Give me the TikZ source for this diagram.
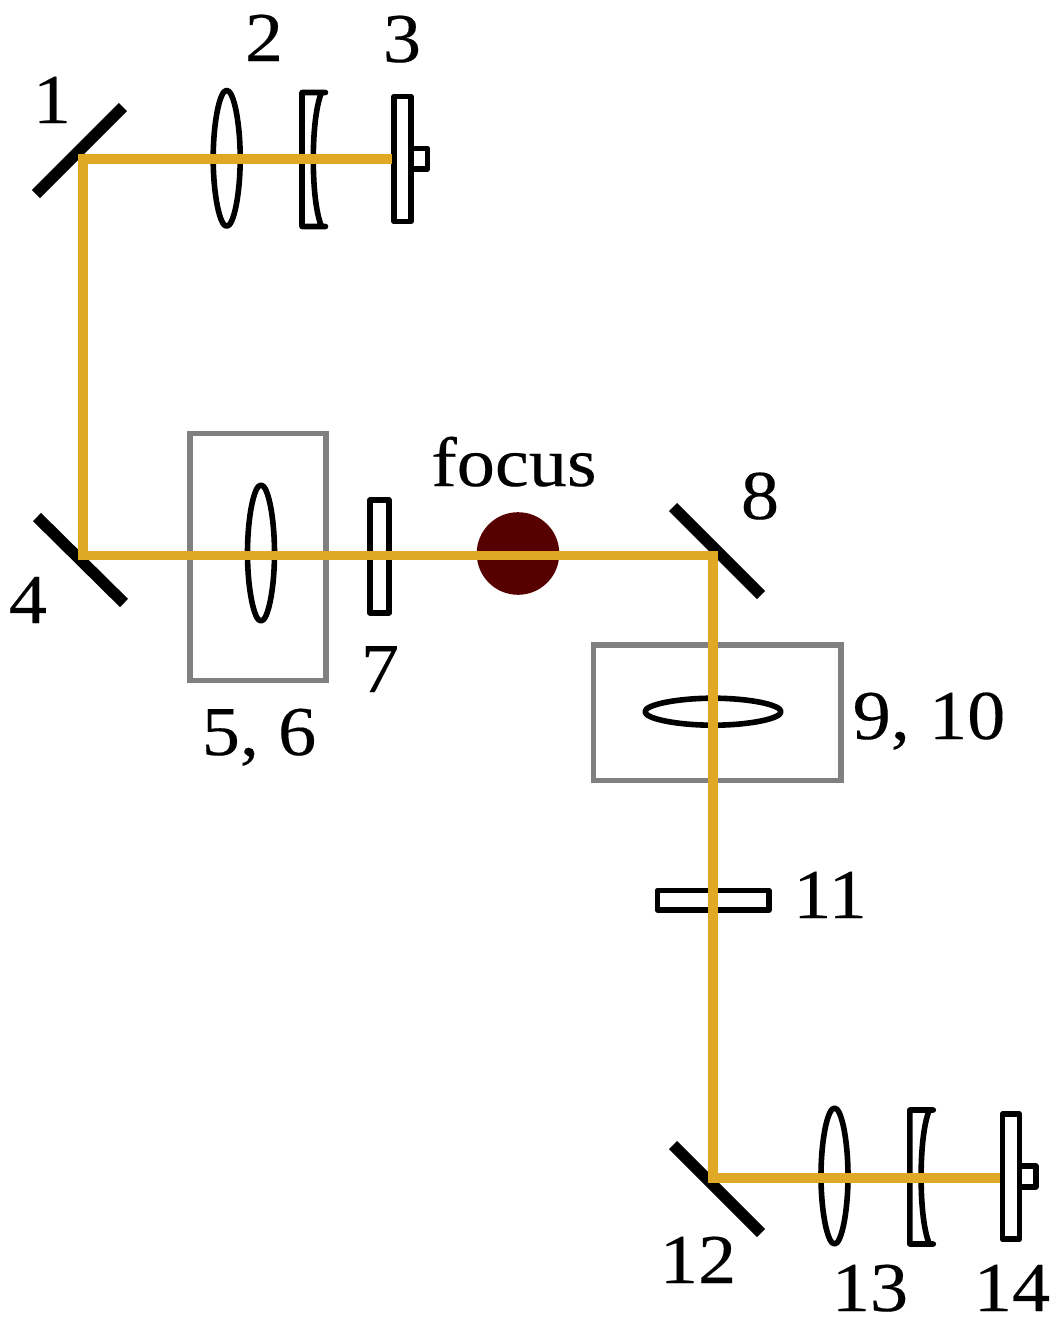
\documentclass[tikz,border=0pt]{standalone}
\usepackage{fontspec}
\setmainfont[FakeStretch=1.09,FakeBold=0.25]{Liberation Serif}
\definecolor{beamgold}{HTML}{DFA926}
\definecolor{boxgray}{HTML}{808080}
\definecolor{focusred}{HTML}{560000}
\tikzset{
  beam/.style={draw=beamgold,line width=9.5pt,line join=miter},
  mirror/.style={draw=black,line width=11.5pt},
  optic/.style={draw=black,line width=5.6pt,line join=round},
  meniscus/.style={draw=black,line width=5.6pt,line join=round,line cap=round},
  stage/.style={draw=boxgray,line width=5.5pt},
  lbl/.style={anchor=base,inner sep=0pt,outer sep=0pt,text=black,font=\fontsize{70}{75}\selectfont}
}
\newcommand{\vlens}[2]{\draw[optic] (#1,#2-68) .. controls (#1+7,#2-68) and (#1+13.5,#2-36) .. (#1+13.5,#2) .. controls (#1+13.5,#2+36) and (#1+7,#2+68) .. (#1,#2+68) .. controls (#1-7,#2+68) and (#1-13.5,#2+36) .. (#1-13.5,#2) .. controls (#1-13.5,#2-36) and (#1-7,#2-68) .. cycle;}
\newcommand{\hlens}[2]{\draw[optic] (#1-68,#2) .. controls (#1-68,#2-7) and (#1-36,#2-13.5) .. (#1,#2-13.5) .. controls (#1+36,#2-13.5) and (#1+68,#2-7) .. (#1+68,#2) .. controls (#1+68,#2+7) and (#1+36,#2+13.5) .. (#1,#2+13.5) .. controls (#1-36,#2+13.5) and (#1-68,#2+7) .. cycle;}
\newcommand{\menisc}[2]{\draw[meniscus,shift={(#1,#2)}] (23.5,0) -- (0,0) -- (0,134) -- (23.5,134) (19.5,0) .. controls (13.5,15) and (11.3,42) .. (11.3,67) .. controls (11.3,92) and (13.5,119) .. (19.5,134);}
\newcommand{\detector}[2]{\draw[optic,shift={(#1,#2)}] (0,0) rectangle (17,125) (17,52) -- (33.5,52) -- (33.5,72.5) -- (17,72.5);}
\begin{document}
\begin{tikzpicture}[x=1pt,y=-1pt]
\useasboundingbox (0,0) rectangle (1057,1320);
% beam corner points
\coordinate (bStart) at (391.7,159);
\coordinate (bM1) at (83,159);
\coordinate (bM4) at (83,555.5);
\coordinate (bM8) at (713,555.5);
\coordinate (bM12) at (713,1178);
\coordinate (bEnd) at (1000,1178);
% stages
\draw[stage] (189.8,433.7) rectangle (325.8,680.5);
\draw[stage] (593.5,645) rectangle (841,780.7);
% focus
\fill[focusred] (518,553.5) circle (41.3);
% mirrors
\draw[mirror] (36,194) -- (123,107);
\draw[mirror] (37,517) -- (124,603);
\draw[mirror] (673,507) -- (761,595);
\draw[mirror] (673,1145) -- (761,1233);
% optics
\vlens{226.7}{158.3}
\menisc{302}{92.5}
\detector{394}{96.5}
\vlens{261}{553}
\draw[optic] (370,500) rectangle (389,612.7);
\hlens{713}{711.7}
\draw[optic] (657.5,890.5) rectangle (769,910);
\vlens{834.5}{1176}
\menisc{909.8}{1110}
\detector{1002.3}{1114.2}
% beam
\draw[beam] (bStart) -- (bM1) -- (bM4) -- (bM8) -- (bM12) -- (bEnd);
% labels
\node[lbl] (l1) at (52,123) {1};
\node[lbl] (l2) at (264,61) {2};
\node[lbl] (l3) at (402,62) {3};
\node[lbl] (l4) at (28,623) {4};
\node[lbl] (l56) at (259,755) {5, 6};
\node[lbl] (l7) at (380,692) {7};
\node[lbl] (lf) at (514,486) {focus};
\node[lbl] (l8) at (760,519) {8};
\node[lbl] (l910) at (929,739) {9, 10};
\node[lbl] (l11) at (830,918) {11};
\node[lbl] (l12) at (698,1283) {12};
\node[lbl] (l13) at (870,1311) {13};
\node[lbl] (l14) at (1012,1311) {14};
\end{tikzpicture}
\end{document}
